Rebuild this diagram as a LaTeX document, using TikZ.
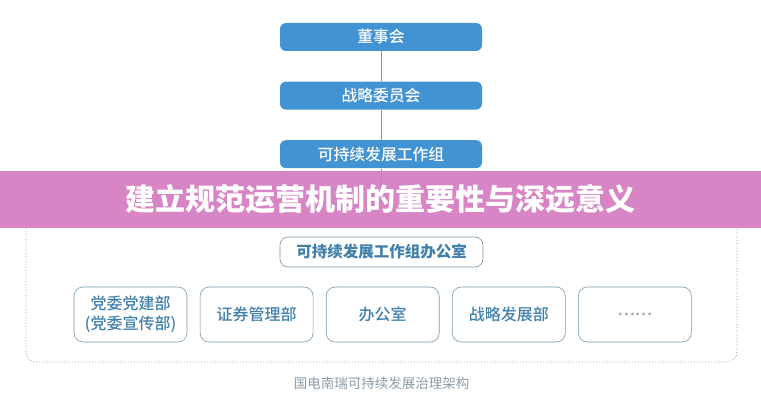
\documentclass[tikz,border=0pt]{standalone}
\usepackage{fontspec}
\newfontfamily\cjk{Noto Sans CJK SC}
\newfontfamily\cjkmed{Noto Sans CJK SC Medium}
\newfontfamily\cjkheavy{Noto Sans CJK SC Black}
\usetikzlibrary{positioning}
\definecolor{boxblue}{RGB}{66,147,211}
\definecolor{linegray}{RGB}{130,150,166}
\definecolor{edgeblue}{RGB}{120,152,174}
\definecolor{textblue}{RGB}{66,128,172}
\definecolor{bandpink}{RGB}{212,120,192}
\definecolor{capgray}{RGB}{140,154,165}
\tikzset{topbox/.style = {fill=boxblue, rounded corners=6pt, minimum width=202pt, minimum height=28pt, text=white, font=\cjkmed\fontsize{15.8}{18}\selectfont}}
\tikzset{officebox/.style = {draw=edgeblue, fill=white, rounded corners=8pt, minimum width=203pt, minimum height=30pt, text=textblue, font=\cjk\bfseries\fontsize{15.5}{18}\selectfont}}
\tikzset{deptbox/.style = {draw=edgeblue, rounded corners=9pt, minimum width=113pt, minimum height=55pt, align=center, text=textblue, font=\cjkmed\fontsize{16}{20}\selectfont}}
\tikzset{frame/.style = {draw=linegray, dotted, line width=0.8pt, rounded corners=10pt}}
\tikzset{banner/.style = {fill=bandpink, fill opacity=0.9, text opacity=1, minimum width=761pt, minimum height=57pt, text=white, font=\cjkheavy\fontsize{30}{34}\selectfont}}
\begin{document}
\begin{tikzpicture}[x=1pt, y=1pt, node distance=30pt, semithick]
  \useasboundingbox (0,0) rectangle (761,400);
  \node [topbox] (board) at (381,363) {董事会};
  \node [topbox, below=of board] (strategy) {战略委员会};
  \node [topbox, below=of strategy] (group) {可持续发展工作组};

  \draw [frame] (26,38) rectangle (737,198);
  \coordinate (frametop) at (381,198);

  \node [officebox] (office) at (381.5,148) {可持续发展工作组办公室};

  \node [deptbox] (party) at (130.5,85.5) {党委党建部\\(党委宣传部)};
  \node [deptbox, right=12.5pt of party] (securities) {证券管理部};
  \node [deptbox, right=12.5pt of securities] (admin) {办公室};
  \node [deptbox, right=12.5pt of admin] (planning) {战略发展部};
  \node [deptbox, right=12.5pt of planning, text=capgray] (more) {……};

  \draw [linegray, thin] (board) -- (strategy);
  \draw [linegray, thin] (strategy) -- (group);
  \draw [linegray, thin] (group) -- (frametop);

  \node [banner] (title) at (380.5,200.5) {建立规范运营机制的重要性与深远意义};

  \node [text=capgray, font=\cjk\fontsize{13.5}{16}\selectfont] (caption) at (381.5,17) {国电南瑞可持续发展治理架构};
\end{tikzpicture}
\end{document}
